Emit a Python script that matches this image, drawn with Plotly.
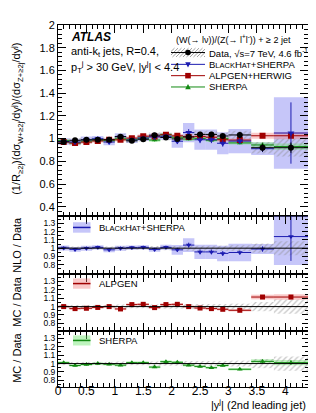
import plotly.graph_objects as go
from plotly.subplots import make_subplots

# ---------------- data ----------------
bin_edges = [0.0, 0.2, 0.4, 0.6, 0.8, 1.0, 1.2, 1.4, 1.6, 1.8, 2.0, 2.2, 2.4, 2.6, 2.8, 3.0, 3.4, 3.8, 4.4]

data_vals = [0.971, 0.985, 0.989, 0.989, 0.990, 1.017, 0.980, 0.994, 1.030, 1.010,
             0.997, 1.015, 1.037, 1.037, 1.023, 1.032, 0.920, 0.920]
data_stat = [0.015, 0.015, 0.015, 0.015, 0.015, 0.02, 0.015, 0.015, 0.02, 0.02,
             0.02, 0.02, 0.02, 0.02, 0.02, 0.025, 0.035, 0.045]
data_syst_rel = [0.02, 0.02, 0.02, 0.02, 0.02, 0.025, 0.02, 0.02, 0.025, 0.025,
                 0.025, 0.03, 0.03, 0.03, 0.03, 0.035, 0.055, 0.085]

# BlackHat+Sherpa
bh_vals = [0.974, 0.970, 0.989, 0.999, 0.970, 1.017, 0.987, 1.004, 1.015, 1.020,
           0.977, 1.053, 0.990, 0.990, 0.959, 0.978, 0.911, 1.049]
bh_ratio = [1.003, 0.985, 1.000, 1.010, 0.980, 1.000, 1.007, 1.010, 0.985, 1.010,
            0.980, 1.037, 0.955, 0.955, 0.937, 0.948, 0.990, 1.140]
bh_stat = [0.02, 0.02, 0.02, 0.02, 0.02, 0.02, 0.02, 0.02, 0.02, 0.02,
           0.025, 0.03, 0.03, 0.03, 0.03, 0.025, 0.03, 0.27]
bh_band_rel = [0.03, 0.03, 0.03, 0.025, 0.03, 0.03, 0.025, 0.025, 0.03, 0.03,
               0.06, 0.08, 0.09, 0.09, 0.10, 0.11, 0.06, 0.30]

# Alpgen+Herwig
alp_vals = [0.971, 0.961, 0.969, 0.979, 0.990, 0.989, 1.004, 1.021, 1.018, 1.034,
            1.024, 1.015, 1.019, 1.012, 0.990, 0.987, 1.025, 1.025]
alp_ratio = [1.000, 0.976, 0.980, 0.990, 1.000, 0.972, 1.024, 1.027, 0.988, 1.024,
             1.027, 1.000, 0.983, 0.976, 0.968, 0.956, 1.114, 1.114]
alp_stat = [0.01, 0.01, 0.01, 0.01, 0.01, 0.01, 0.01, 0.01, 0.01, 0.01,
            0.01, 0.01, 0.01, 0.01, 0.01, 0.01, 0.02, 0.02]
alp_band_rel = [0.015, 0.015, 0.015, 0.015, 0.015, 0.015, 0.015, 0.015, 0.015, 0.015,
                0.015, 0.015, 0.015, 0.015, 0.015, 0.015, 0.025, 0.03]

# Sherpa
sh_vals = [0.982, 0.962, 0.978, 0.989, 0.982, 0.998, 0.991, 1.005, 0.987, 1.033,
           1.012, 0.996, 1.002, 0.986, 0.999, 0.962, 0.944, 0.930]
sh_ratio = [1.011, 0.977, 0.989, 1.000, 0.992, 0.981, 1.011, 1.011, 0.958, 1.023,
            1.015, 0.981, 0.966, 0.951, 0.977, 0.932, 1.026, 1.011]
sh_stat = [0.012, 0.012, 0.012, 0.012, 0.012, 0.012, 0.012, 0.012, 0.012, 0.012,
           0.012, 0.012, 0.012, 0.012, 0.012, 0.012, 0.02, 0.025]
sh_band_rel = [0.015, 0.015, 0.015, 0.015, 0.015, 0.015, 0.015, 0.015, 0.015, 0.015,
               0.015, 0.015, 0.015, 0.015, 0.015, 0.015, 0.025, 0.03]

# ---------------- styling ----------------
FONT = "Liberation Sans, Arial, Helvetica, sans-serif"
C_BLUE = "#1c1cb0"
C_RED = "#a00000"
C_GREEN = "#138a13"
B_BLUE = "rgba(120,120,240,0.42)"
B_RED = "rgba(240,120,120,0.40)"
B_GREEN = "rgba(110,230,110,0.45)"
HATCH = "#8a8a8a"

centers = [(a + b) / 2 for a, b in zip(bin_edges[:-1], bin_edges[1:])]
widths = [b - a for a, b in zip(bin_edges[:-1], bin_edges[1:])]
halfw = [w / 2 for w in widths]

fig = make_subplots(rows=4, cols=1, shared_xaxes=True, vertical_spacing=0,
                    row_heights=[194, 59, 58, 57])


def band(row, mid, rel, color, hatch=False):
    lo = [m * (1 - r) for m, r in zip(mid, rel)]
    hi = [m * (1 + r) for m, r in zip(mid, rel)]
    if hatch:
        marker = dict(color="rgba(0,0,0,0)", line=dict(width=0),
                      pattern=dict(shape="/", fgcolor=HATCH, bgcolor="rgba(0,0,0,0)",
                                   size=4, solidity=0.3))
    else:
        marker = dict(color=color, line=dict(width=0))
    fig.add_trace(go.Bar(x=centers, y=[h - l for h, l in zip(hi, lo)], base=lo,
                         width=widths, marker=marker, showlegend=False,
                         hoverinfo="skip"), row=row, col=1)


def points(row, vals, err, color, symbol, size):
    fig.add_trace(go.Scatter(x=centers, y=vals, mode="markers",
                             marker=dict(symbol=symbol, size=size, color=color),
                             error_x=dict(type="data", array=halfw, width=0, thickness=1, color=color),
                             error_y=dict(type="data", array=err, width=0, thickness=1, color=color),
                             showlegend=False, hoverinfo="skip"), row=row, col=1)


ones = [1.0] * len(centers)

# ---- top panel ----
band(1, bh_vals, bh_band_rel, B_BLUE)
band(1, alp_vals, alp_band_rel, B_RED)
band(1, sh_vals, sh_band_rel, B_GREEN)
band(1, data_vals, data_syst_rel, None, hatch=True)
points(1, sh_vals, sh_stat, C_GREEN, "triangle-up", 5)
points(1, alp_vals, alp_stat, C_RED, "square", 6)
points(1, bh_vals, bh_stat, C_BLUE, "triangle-down", 6)
points(1, data_vals, data_stat, "black", "circle", 6)

# ---- ratio panels ----
bh_err_r = [e / d for e, d in zip(bh_stat, data_vals)]
alp_err_r = [e / d for e, d in zip(alp_stat, data_vals)]
sh_err_r = [e / d for e, d in zip(sh_stat, data_vals)]

band(2, bh_ratio, bh_band_rel, B_BLUE)
band(2, ones, data_syst_rel, None, hatch=True)
points(2, bh_ratio, bh_err_r, C_BLUE, "triangle-down", 5)

band(3, alp_ratio, alp_band_rel, B_RED)
band(3, ones, data_syst_rel, None, hatch=True)
points(3, alp_ratio, alp_err_r, C_RED, "square", 5)

band(4, sh_ratio, sh_band_rel, B_GREEN)
band(4, ones, data_syst_rel, None, hatch=True)
points(4, sh_ratio, sh_err_r, C_GREEN, "triangle-up", 5)

# ---------------- layout ----------------
dom = {1: [0.4728, 1.0], 2: [0.3125, 0.4728], 3: [0.1549, 0.3125], 4: [0.0, 0.1549]}
yr = {1: [0.32, 2.0], 2: [0.69, 1.39], 3: [0.71, 1.39], 4: [0.72, 1.39]}

axis_common = dict(ticks="inside", mirror="allticks", showline=True, linecolor="black",
                   linewidth=1, showgrid=False, zeroline=False, tickcolor="black",
                   tickfont=dict(family=FONT, size=11, color="black"))

for i in range(1, 5):
    yname = "yaxis" if i == 1 else f"yaxis{i}"
    xname = "xaxis" if i == 1 else f"xaxis{i}"
    if i == 1:
        ytick = dict(tickvals=[0.4, 0.6, 0.8, 1.0, 1.2, 1.4, 1.6, 1.8, 2.0], ticklen=8,
                     minor=dict(dtick=0.04, ticklen=4, ticks="inside", tickcolor="black"))
    else:
        ytick = dict(tickvals=[0.8, 0.9, 1.0, 1.1, 1.2, 1.3], ticklen=6,
                     minor=dict(dtick=0.05, ticklen=3, ticks="inside", tickcolor="black"))
    yax = dict(axis_common)
    yax.update(ytick)
    yax.update(domain=dom[i], range=yr[i])
    if i > 1:
        yax["tickfont"] = dict(family=FONT, size=8.5, color="black")
    fig.layout[yname].update(yax)
    xax = dict(axis_common)
    xax.update(range=[0, 4.4], dtick=0.5, tick0=0, ticklen=8,
               minor=dict(dtick=0.1, ticklen=4, ticks="inside", tickcolor="black"),
               showticklabels=(i == 4))
    if i == 4:
        xax["ticklabelstandoff"] = -7
    xax["tickfont"] = dict(family=FONT, size=12, color="black")
    fig.layout[xname].update(xax)

# unity lines in ratio panels
for i in (2, 3, 4):
    fig.add_shape(type="line", xref=f"x{i} domain", yref=f"y{i}", x0=0, x1=1, y0=1, y1=1,
                  line=dict(color="black", width=1))

small = lambda s, fs=8: f"<span style='font-size:{fs}px'>" + s + "</span>"

# ratio-panel legends
ratio_labels = [
    (2, "B" + small("LACK", 7.5) + "H" + small("AT", 7.5) + "+SHERPA", C_BLUE, B_BLUE, 0.80),
    (3, "ALPGEN", C_RED, B_RED, 0.83),
    (4, "SHERPA", C_GREEN, B_GREEN, 0.83),
]
for i, txt, col, bcol, yy in ratio_labels:
    fig.add_shape(type="rect", xref=f"x{i} domain", yref=f"y{i} domain",
                  x0=0.06, x1=0.13, y0=yy - 0.09, y1=yy + 0.09,
                  fillcolor=bcol, line=dict(width=0))
    fig.add_shape(type="line", xref=f"x{i} domain", yref=f"y{i} domain",
                  x0=0.06, x1=0.13, y0=yy, y1=yy, line=dict(color=col, width=1.5))
    fig.add_annotation(xref=f"x{i} domain", yref=f"y{i} domain", x=0.155, y=yy,
                       text=txt, showarrow=False, xanchor="left", yanchor="middle",
                       font=dict(family=FONT, size=9.5, color="black"))

# ---- manual legend in the top panel (pixel layout converted to domain units) ----
PL, PW, PB, PH = 50.0, 250.0, 205.0, 194.0


def dx(px):
    return (px - PL) / PW


def dy(py):
    return (PB - py) / PH


leg_x0, leg_x1, leg_mx, leg_tx = 163, 197, 180, 199
leg_rows = [39, 51, 62.5, 74]
fig.add_annotation(xref="x domain", yref="y domain", x=dx(166), y=dy(25),
                   text="(W(→ lν))/(Z(→ l<sup>+</sup>l<sup>-</sup>)) + ≥ 2 jet",
                   showarrow=False, xanchor="left", yanchor="middle",
                   font=dict(family=FONT, size=9, color="black"))
legend_entries = [
    ("Data, √s=7 TeV, 4.6 fb<sup>-1</sup>", "black", "circle"),
    ("B" + small("LACK", 7.5) + "H" + small("AT", 7.5) + "+SHERPA", C_BLUE, "tdown"),
    ("ALPGEN+HERWIG", C_RED, "square"),
    ("SHERPA", C_GREEN, "tup"),
]
# hatched box behind the data entry
hy0, hy1 = leg_rows[0] - 4.5, leg_rows[0] + 4.5
step = 3.5
xs = leg_x0 - (hy1 - hy0)
while xs < leg_x1:
    ax0, ay0 = xs, hy1
    ax1, ay1 = xs + (hy1 - hy0), hy0
    if ax0 < leg_x0:
        ay0 = hy1 - (leg_x0 - ax0)
        ax0 = leg_x0
    if ax1 > leg_x1:
        ay1 = hy0 + (ax1 - leg_x1)
        ax1 = leg_x1
    if ax1 > ax0:
        fig.add_shape(type="line", xref="x domain", yref="y domain",
                      x0=dx(ax0), y0=dy(ay0), x1=dx(ax1), y1=dy(ay1),
                      line=dict(color=HATCH, width=0.8))
    xs += step

for (txt, col, sym), ry in zip(legend_entries, leg_rows):
    fig.add_shape(type="line", xref="x domain", yref="y domain",
                  x0=dx(leg_x0), x1=dx(leg_x1), y0=dy(ry), y1=dy(ry),
                  line=dict(color=col, width=1))
    r = 2.8
    if sym == "circle":
        fig.add_shape(type="circle", xref="x domain", yref="y domain",
                      x0=dx(leg_mx - r), x1=dx(leg_mx + r), y0=dy(ry + r), y1=dy(ry - r),
                      fillcolor=col, line=dict(color=col, width=0))
    elif sym == "square":
        fig.add_shape(type="rect", xref="x domain", yref="y domain",
                      x0=dx(leg_mx - r), x1=dx(leg_mx + r), y0=dy(ry + r), y1=dy(ry - r),
                      fillcolor=col, line=dict(color=col, width=0))
    else:
        sgn = 1 if sym == "tdown" else -1
        path = (f"M {dx(leg_mx - r)} {dy(ry - sgn * r * 0.8)} "
                f"L {dx(leg_mx + r)} {dy(ry - sgn * r * 0.8)} "
                f"L {dx(leg_mx)} {dy(ry + sgn * r * 1.1)} Z")
        fig.add_shape(type="path", xref="x domain", yref="y domain", path=path,
                      fillcolor=col, line=dict(color=col, width=0))
    fig.add_annotation(xref="x domain", yref="y domain", x=dx(leg_tx), y=dy(ry),
                       text=txt, showarrow=False, xanchor="left", yanchor="middle",
                       font=dict(family=FONT, size=9.5, color="black"))

# top-left labels
fig.add_annotation(xref="x domain", yref="y domain", x=0.045, y=0.935,
                   text="<b><i>ATLAS</i></b>", showarrow=False, xanchor="left",
                   yanchor="middle", font=dict(family=FONT, size=12, color="black"))
fig.add_annotation(xref="x domain", yref="y domain", x=0.045, y=0.86,
                   text="anti-k<sub>t</sub> jets, R=0.4,", showarrow=False, xanchor="left",
                   yanchor="middle", font=dict(family=FONT, size=11, color="black"))
fig.add_annotation(xref="x domain", yref="y domain", x=0.045, y=0.78,
                   text="p<sub>T</sub><sup>j</sup> > 30 GeV, |y<sup>j</sup>| < 4.4",
                   showarrow=False, xanchor="left", yanchor="middle",
                   font=dict(family=FONT, size=11, color="black"))

# y axis titles
fig.add_annotation(xref="paper", yref="paper", x=-0.165, y=0.74, textangle=-90,
                   text="(1/R<sub>≥2j</sub>)(dσ<sub>W+≥2j</sub>/dy<sup>j</sup>)/(dσ<sub>Z+≥2j</sub>/dy<sup>j</sup>)",
                   showarrow=False, xanchor="center", yanchor="middle",
                   font=dict(family=FONT, size=11, color="black"))
for yy, txt in [(0.392, "NLO / Data"), (0.235, "MC / Data"), (0.08, "MC / Data")]:
    fig.add_annotation(xref="paper", yref="paper", x=-0.165, y=yy, textangle=-90,
                       text=txt, showarrow=False, xanchor="center", yanchor="middle",
                       font=dict(family=FONT, size=11, color="black"))

# x axis title
fig.add_annotation(xref="paper", yref="paper", x=1.0, y=-0.072,
                   text="|y<sup>j</sup>| (2nd leading jet)", showarrow=False,
                   xanchor="right", yanchor="bottom",
                   font=dict(family=FONT, size=11, color="black"))

fig.update_layout(
    width=316, height=413,
    margin=dict(l=50, r=16, t=11, b=34),
    paper_bgcolor="white", plot_bgcolor="white",
    barmode="overlay",
    font=dict(family=FONT, size=11, color="black"),
    showlegend=False,
)

fig.write_html("out.html")
